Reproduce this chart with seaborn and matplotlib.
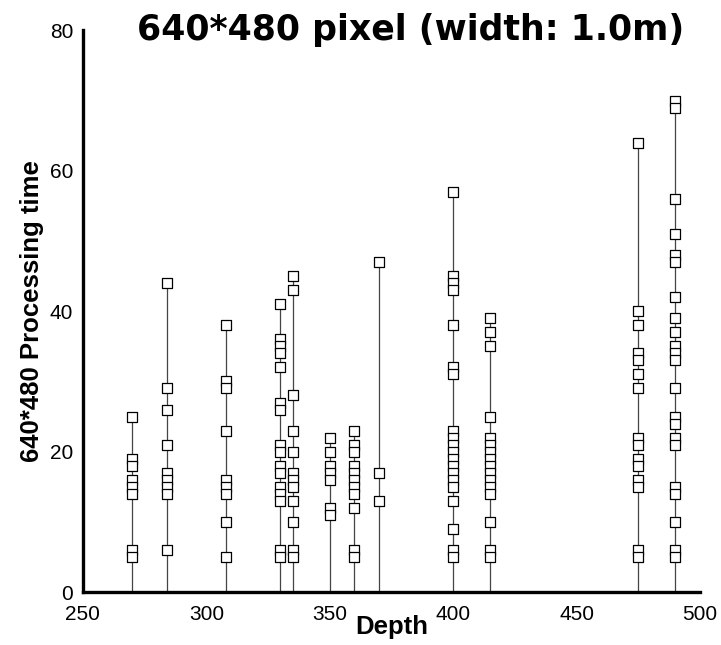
import pandas as pd
import numpy as np
import matplotlib
matplotlib.use("Agg")
import matplotlib.pyplot as plt
import seaborn as sns
from matplotlib.ticker import MultipleLocator

# --- data ------------------------------------------------------------

depths = [270, 284, 308, 330, 335, 350, 360, 370, 400, 415, 475, 490]

t_270 = [25, 19, 18, 16, 15, 14, 6, 5]
t_284 = [44, 29, 26, 21, 17, 16, 15, 14, 6]
t_308 = [38, 30, 29, 23, 16, 15, 14, 10, 5]
t_330 = [41, 36, 35, 34, 32, 27, 26, 21, 20, 18, 17, 15, 14, 13, 6, 5]
t_335 = [45, 43, 28, 23, 20, 17, 16, 15, 13, 10, 6, 5]
t_350 = [22, 20, 18, 17, 16, 12, 11]
t_360 = [23, 21, 20, 18, 17, 16, 15, 14, 12, 6, 5]
t_370 = [47, 17, 13]
t_400 = [57, 45, 44, 43, 38, 32, 31, 23, 22, 21, 20, 19, 18, 17, 16, 15, 13, 9, 6, 5]
t_415 = [39, 37, 35, 25, 22, 21, 20, 19, 18, 17, 16, 15, 14, 10, 6, 5]
t_475 = [64, 40, 38, 34, 33, 31, 29, 22, 21, 19, 18, 16, 15, 6, 5]
t_490 = [70, 69, 56, 51, 48, 47, 42, 39, 37, 35, 34, 33, 29, 25, 24, 22, 21,
         15, 14, 10, 6, 5]

times = [t_270, t_284, t_308, t_330, t_335, t_350, t_360, t_370,
         t_400, t_415, t_475, t_490]

title = "640*480 pixel (width: 1.0m)"
x_label = "Depth"
y_label = "640*480 Processing time"

df = pd.DataFrame({
    "Depth": np.repeat(depths, [len(t) for t in times]),
    "Time": np.concatenate(times),
})
tops = df.groupby("Depth")["Time"].max()

# --- plot ------------------------------------------------------------

sns.set_style("white")
plt.rcParams["font.family"] = ["Liberation Sans Narrow", "Liberation Sans", "DejaVu Sans"]
plt.rcParams.update({"text.color": "black", "axes.labelcolor": "black",
                     "xtick.color": "black", "ytick.color": "black"})

fig = plt.figure(figsize=(7.21, 6.45), dpi=100)
ax = fig.add_axes([0.115, 0.082, 0.856, 0.871])

# stems from zero up to the slowest run at each depth
ax.vlines(tops.index, 0, tops.values, color="#444444", lw=0.9, zorder=1)
sns.scatterplot(data=df, x="Depth", y="Time", ax=ax, marker="s", s=44,
                facecolor="white", edgecolor="black", linewidth=0.9, zorder=2)

ax.set_xlim(250, 500)
ax.set_ylim(0, 80)
ax.xaxis.set_major_locator(MultipleLocator(50))
ax.xaxis.set_minor_locator(MultipleLocator(10))
ax.yaxis.set_major_locator(MultipleLocator(20))
ax.yaxis.set_minor_locator(MultipleLocator(5))

for s in ["top", "right"]:
    ax.spines[s].set_visible(False)
for s in ["left", "bottom"]:
    ax.spines[s].set_linewidth(2.4)
    ax.spines[s].set_color("black")

ax.tick_params(which="major", direction="in", length=9, width=2.4,
               labelsize=15, color="black", labelcolor="black")
ax.tick_params(which="minor", direction="in", length=6, width=1.0, color="black")
ax.tick_params(axis="x", pad=9)
ax.tick_params(axis="y", pad=7)

ax.set_xlabel(x_label, fontsize=18.5, fontweight="bold",
              family=["Liberation Sans", "DejaVu Sans"], labelpad=-6)
ax.set_ylabel(y_label, fontsize=18.5, fontweight="bold",
              family=["Liberation Sans", "DejaVu Sans"], labelpad=4)

fig.text(0.569, 0.953, title, ha="center", va="center", fontsize=25,
         fontweight="bold", family=["DejaVu Sans"])

fig.savefig("out.png", dpi=100)
